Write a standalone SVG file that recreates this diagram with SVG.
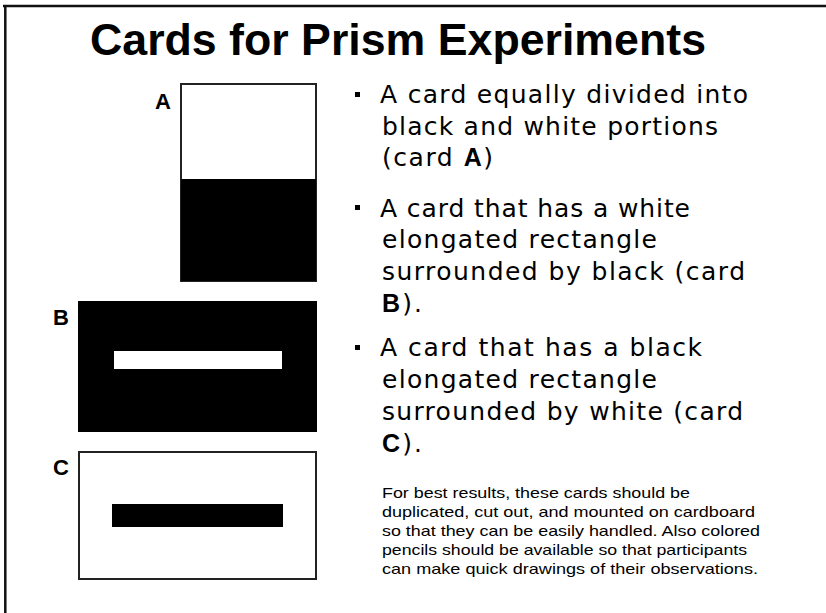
<svg xmlns="http://www.w3.org/2000/svg" width="826" height="613" viewBox="0 0 826 613">
  <style>
    .title { font-family: "Liberation Sans", Arial, sans-serif; font-weight: bold; font-size: 44px; fill: #000; }
    .lbl { font-family: "Liberation Sans", Arial, sans-serif; font-weight: bold; font-size: 22px; fill: #000; }
    .bul { font-family: "DejaVu Sans", Verdana, sans-serif; font-size: 25px; fill: #000; }
    .bul .b { font-family: "Liberation Sans", Arial, sans-serif; font-weight: bold; }
    .note { font-family: "Liberation Sans", Arial, sans-serif; font-size: 15px; fill: #000; }
    .frame { stroke: #111; stroke-width: 2.5; fill: none; }
    .card { stroke: #222; stroke-width: 2; }
    .dot { fill: #000; }
  </style>
  <rect x="0" y="0" width="826" height="613" fill="#fff"/>
  <g id="frame">
    <line class="frame" x1="3" y1="6" x2="826" y2="6"/>
    <line class="frame" x1="5.3" y1="5" x2="5.3" y2="613"/>
  </g>
  <g id="title">
    <text class="title" x="90" y="55" textLength="616" lengthAdjust="spacingAndGlyphs">Cards for Prism Experiments</text>
  </g>
  <g id="cardA">
    <rect class="card" x="181" y="84" width="135" height="197" fill="#fff"/>
    <rect x="181" y="179" width="135" height="102" fill="#000"/>
    <text class="lbl" x="155" y="109">A</text>
  </g>
  <g id="cardB">
    <rect x="78" y="301" width="239" height="131" fill="#000"/>
    <rect x="114" y="351" width="168" height="18" fill="#fff"/>
    <text class="lbl" x="53" y="325">B</text>
  </g>
  <g id="cardC">
    <rect class="card" x="79" y="452" width="237" height="127" fill="#fff"/>
    <rect x="112" y="504" width="171" height="23" fill="#000"/>
    <text class="lbl" x="53" y="475">C</text>
  </g>
  <g id="bullets">
    <rect class="dot" x="355" y="92" width="5" height="5"/>
    <text class="bul" x="380" y="103" textLength="368" lengthAdjust="spacing">A card equally divided into</text>
    <text class="bul" x="382" y="135" textLength="336" lengthAdjust="spacing">black and white portions</text>
    <text class="bul" x="382" y="166" textLength="111" lengthAdjust="spacing">(card <tspan class="b">A</tspan>)</text>
    <rect class="dot" x="355" y="205" width="5" height="5"/>
    <text class="bul" x="380" y="217" textLength="310" lengthAdjust="spacing">A card that has a white</text>
    <text class="bul" x="382" y="248" textLength="275" lengthAdjust="spacing">elongated rectangle</text>
    <text class="bul" x="382" y="280" textLength="363" lengthAdjust="spacing">surrounded by black (card</text>
    <text class="bul" x="382" y="312" textLength="40" lengthAdjust="spacing"><tspan class="b">B</tspan>).</text>
    <rect class="dot" x="355" y="345" width="5" height="5"/>
    <text class="bul" x="380" y="356" textLength="322" lengthAdjust="spacing">A card that has a black</text>
    <text class="bul" x="382" y="388" textLength="275" lengthAdjust="spacing">elongated rectangle</text>
    <text class="bul" x="382" y="420" textLength="361" lengthAdjust="spacing">surrounded by white (card</text>
    <text class="bul" x="382" y="452" textLength="40" lengthAdjust="spacing"><tspan class="b">C</tspan>).</text>
  </g>
  <g id="note">
    <text class="note" x="382" y="498" textLength="308" lengthAdjust="spacingAndGlyphs">For best results, these cards should be</text>
    <text class="note" x="382" y="517" textLength="373" lengthAdjust="spacingAndGlyphs">duplicated, cut out, and mounted on cardboard</text>
    <text class="note" x="382" y="536" textLength="378" lengthAdjust="spacingAndGlyphs">so that they can be easily handled. Also colored</text>
    <text class="note" x="382" y="555" textLength="365" lengthAdjust="spacingAndGlyphs">pencils should be available so that participants</text>
    <text class="note" x="382" y="574" textLength="376" lengthAdjust="spacingAndGlyphs">can make quick drawings of their observations.</text>
  </g>
</svg>
